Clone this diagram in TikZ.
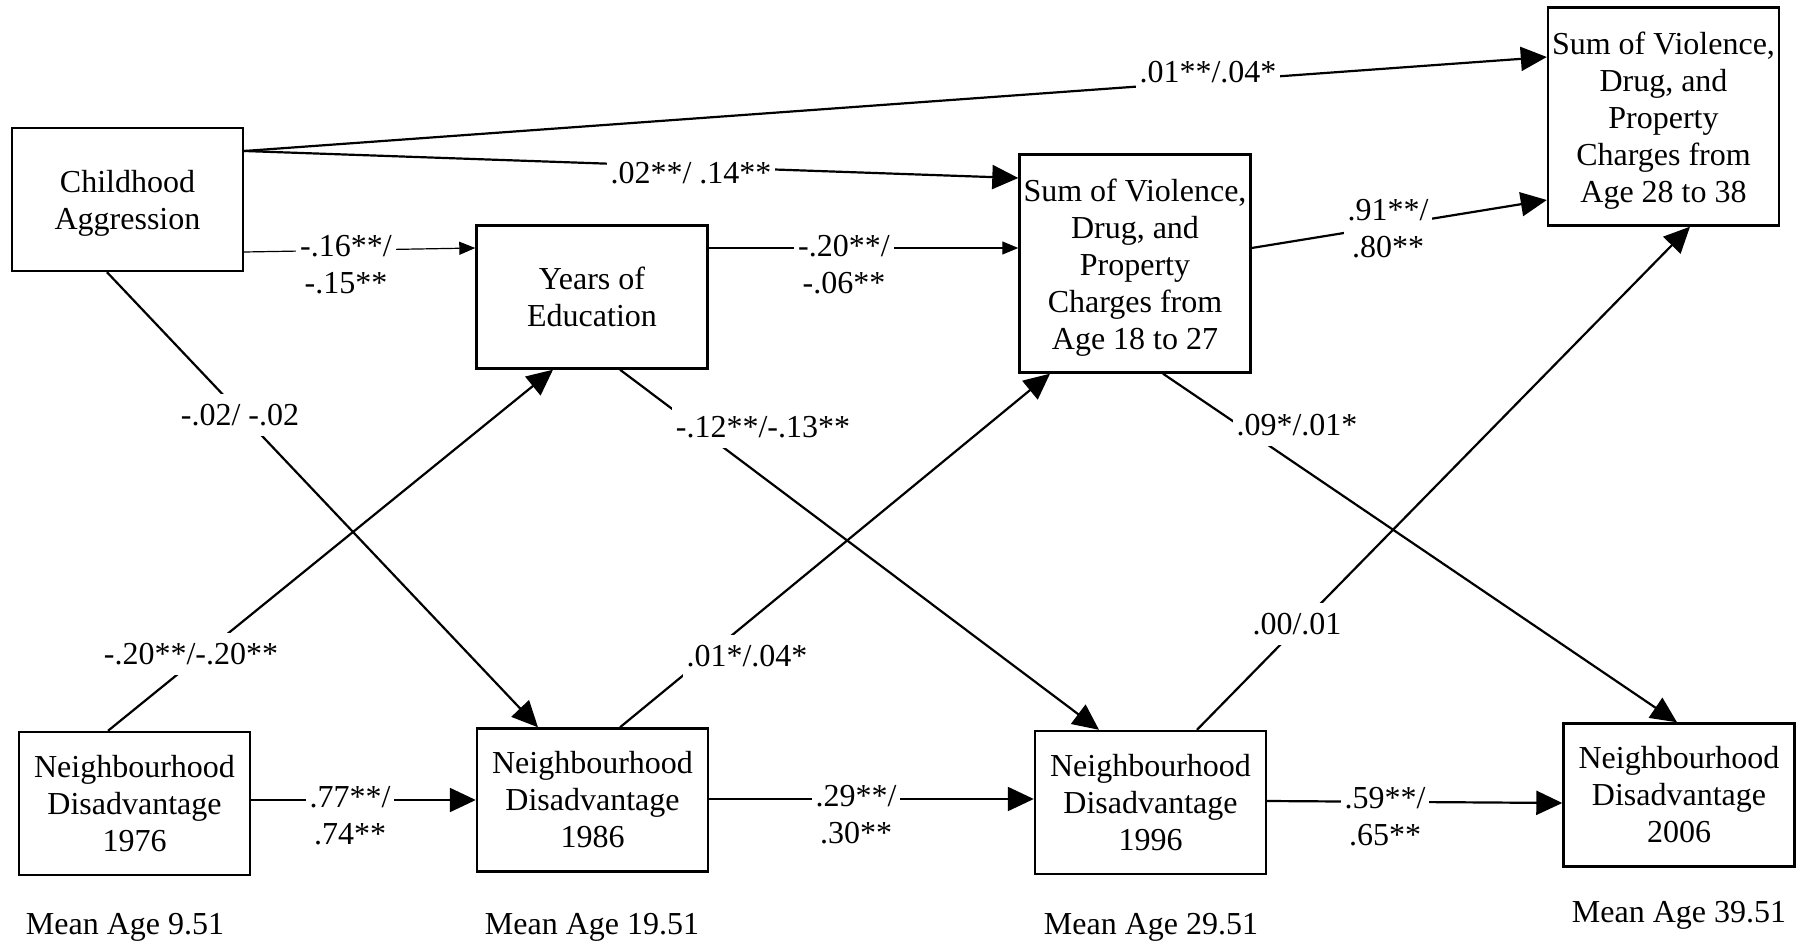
\documentclass[tikz,border=0pt]{standalone}
\usepackage{fontspec}
\setmainfont{Liberation Serif}
\usetikzlibrary{arrows.meta}

\newcommand{\boxstrut}{\rule{0pt}{15pt}}

\tikzset{
  box/.style={draw, line width=1.2pt, align=center, inner sep=1pt,
    minimum width=115.5pt, minimum height=71.5pt},
  tallbox/.style={box, minimum height=109pt},
  coef/.style={fill=white, align=center, inner xsep=2pt, inner ysep=5pt},
  strong/.style={line width=1.1pt, -{Triangle[length=13pt,width=12pt]}},
  weak/.style={line width=0.6pt, -{Triangle[length=8pt,width=6.5pt]}},
}

\begin{document}
\begin{tikzpicture}[x=0.5pt, y=-0.5pt, font=\fontsize{16}{18.5}\selectfont]
\useasboundingbox (0,0) rectangle (1806,947);

% variables
\node [box] (ca) at (127.5,199.5) {\boxstrut Childhood\\Aggression};
\node [box] (ye) at (592,297) {Years of\\Education};
\node [tallbox] (s1) at (1135,263.5) {\boxstrut Sum of Violence,\\Drug, and\\Property\\Charges from\\Age 18 to 27};
\node [tallbox] (s2) at (1663.5,116.5) {\boxstrut Sum of Violence,\\Drug, and\\Property\\Charges from\\Age 28 to 38};
\node [box] (n76) at (134.5,803.5) {Neighbourhood\\Disadvantage\\1976};
\node [box] (n86) at (592.5,800) {Neighbourhood\\Disadvantage\\1986};
\node [box] (n96) at (1150.5,802.5) {Neighbourhood\\Disadvantage\\1996};
\node [box] (n06) at (1679,795) {Neighbourhood\\Disadvantage\\2006};

% paths
\draw [strong] (ca.east |- 0,151) -- (s2.west |- 0,57);
\draw [strong] (ca.east |- 0,151) -- (s1.west |- 0,178);
\draw [weak] (ca.east |- 0,252) -- (ye.west |- 0,248);
\draw [weak] (ye.east |- 0,248) -- (s1.west |- 0,248);
\draw [strong] (s1.east |- 0,248) -- (s2.west |- 0,200);
\draw [strong] (ca.south -| 107,0) -- (n86.north -| 538,0);
\draw [strong] (ye.south -| 620,0) -- (n96.north -| 1099,0);
\draw [strong] (s1.south -| 1163,0) -- (n06.north -| 1677,0);
\draw [strong] (n76.north -| 108,0) -- (ye.south -| 553,0);
\draw [strong] (n86.north -| 620,0) -- (s1.south -| 1050,0);
\draw [strong] (n96.north -| 1197,0) -- (s2.south -| 1690,0);
\draw [strong] (n76.east |- 0,800) -- (n86.west |- 0,800);
\draw [strong] (n86.east |- 0,799) -- (n96.west |- 0,799);
\draw [strong] (n96.east |- 0,801) -- (n06.west |- 0,803);

% coefficients
\node [coef] (c1) at (1208,72) {.01**/.04*};
\node [coef] (c2) at (691,173) {.02**/ .14**};
\node [coef] (c3) at (346,265) {-.16**/\\-.15**};
\node [coef] (c4) at (844,265) {-.20**/\\-.06**};
\node [coef] (c5) at (1388,229) {.91**/\\.80**};
\node [coef] (c6) at (240,415) {-.02/ -.02};
\node [coef] (c7) at (763,427) {-.12**/-.13**};
\node [coef] (c8) at (1297,425) {.09*/.01*};
\node [coef] (c9) at (191,654) {-.20**/-.20**};
\node [coef] (c10) at (747,656) {.01*/.04*};
\node [coef] (c11) at (1297,624) {.00/.01};
\node [coef] (c12) at (350,816) {.77**/\\.74**};
\node [coef] (c13) at (856,815) {.29**/\\.30**};
\node [coef] (c14) at (1385,817) {.59**/\\.65**};

% ages
\node (a76) at (125,927) {Mean Age 9.51};
\node (a86) at (592,927) {Mean Age 19.51};
\node (a96) at (1151,927) {Mean Age 29.51};
\node (a06) at (1679,915) {Mean Age 39.51};
\end{tikzpicture}
\end{document}
